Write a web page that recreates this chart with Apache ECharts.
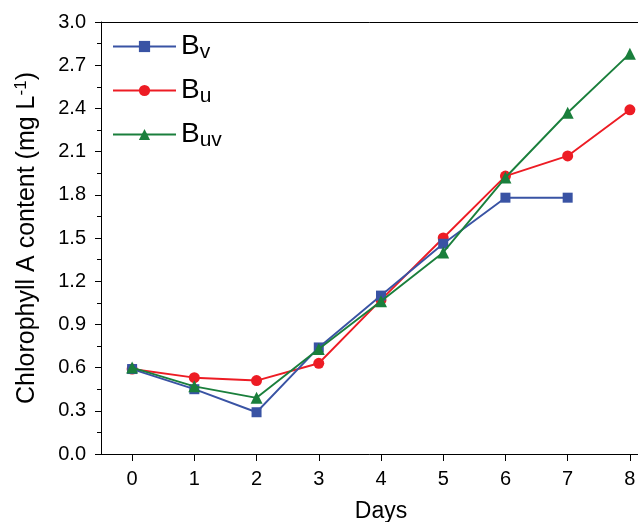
<!DOCTYPE html>
<html><head><meta charset="utf-8">
<script src="https://cdn.jsdelivr.net/npm/echarts@6/dist/echarts.min.js"></script>
<style>html,body{margin:0;padding:0;background:#fff}#c{width:638px;height:522px}</style>
</head><body><div id="c"></div>
<script>
const days = [0,1,2,3,4,5,6,7,8];
const bv  = [0.59,0.45,0.29,0.74,1.10,1.46,1.78,1.78];
const bu  = [0.59,0.53,0.51,0.63,1.07,1.50,1.93,2.07,2.39];
const buv = [0.60,0.47,0.39,0.73,1.06,1.40,1.92,2.37,2.78];
const seriesNames = ['Bv','Bu','Buv'];

const font = '"Liberation Sans", Arial, sans-serif';
const chart = echarts.init(document.getElementById('c'));
function pairs(arr){ return arr.map((v,i)=>[days[i], v]); }
const subs = {Bv:'v', Bu:'u', Buv:'uv'};
chart.setOption({
  animation:false,
  textStyle:{fontFamily:font},
  grid:{left:101, top:22, width:560, height:432, containLabel:false, outerBoundsMode:'none'},
  legend:{
    left:107, top:25, orient:'vertical', itemWidth:63, itemHeight:14, itemGap:11,
    data: seriesNames,
    formatter: n => '{b|B}{s|' + subs[n] + '}',
    textStyle:{fontFamily:font, color:'#000',
      rich:{ b:{fontSize:28, fontFamily:font, color:'#000', lineHeight:31},
             s:{fontSize:21, fontFamily:font, color:'#000', padding:[12,0,0,0], lineHeight:31} } }
  },
  xAxis:[{
    type:'value', min:-0.5, max:8.5, interval:1,
    name:'Days', nameLocation:'middle', nameGap:46,
    nameTextStyle:{fontSize:23, color:'#000', fontFamily:font},
    axisLine:{show:true, onZero:false, lineStyle:{color:'#000', width:1}},
    axisTick:{show:true, inside:false, length:7, lineStyle:{color:'#000'}, customValues:days},
    minorTick:{show:true, splitNumber:2, length:4, lineStyle:{color:'#000'}},
    axisLabel:{fontSize:20, color:'#000', margin:15, fontFamily:font, customValues:days},
    splitLine:{show:false}
  },{
    type:'value', min:-0.5, max:8.5, position:'top',
    axisLine:{show:true, onZero:false, lineStyle:{color:'#000', width:1}},
    axisTick:{show:false}, axisLabel:{show:false}, splitLine:{show:false}
  }],
  yAxis:{
    type:'value', min:0, max:3.0, interval:0.3,
    name:'{t|Chlorophyll A content (mg L}{sup|-1}{t|)}', nameLocation:'middle', nameGap:59,
    nameTextStyle:{fontSize:25, color:'#000', fontFamily:font,
      rich:{t:{fontSize:25, fontFamily:font, color:'#000'}, sup:{fontSize:17, fontFamily:font, color:'#000', padding:[0,0,12,0]}}},
    axisLine:{show:true, onZero:false, lineStyle:{color:'#000', width:1}},
    axisTick:{show:true, inside:false, length:6, lineStyle:{color:'#000'}},
    minorTick:{show:true, splitNumber:2, length:4, lineStyle:{color:'#000'}},
    axisLabel:{fontSize:20, color:'#000', margin:15, fontFamily:font, formatter:v=>v.toFixed(1)},
    splitLine:{show:false}
  },
  series:[
    {name:'Bv', type:'line', data:pairs(bv), symbol:'rect', symbolSize:10,
     itemStyle:{color:'#3953a4'}, lineStyle:{color:'#3953a4', width:1.9}, z:3},
    {name:'Bu', type:'line', data:pairs(bu), symbol:'circle', symbolSize:11,
     itemStyle:{color:'#ed1c24'}, lineStyle:{color:'#ed1c24', width:1.9}, z:2},
    {name:'Buv', type:'line', data:pairs(buv), symbol:'triangle', symbolSize:12,
     itemStyle:{color:'#1a7f3c'}, lineStyle:{color:'#1a7f3c', width:1.9}, z:4}
  ]
});
</script></body></html>
